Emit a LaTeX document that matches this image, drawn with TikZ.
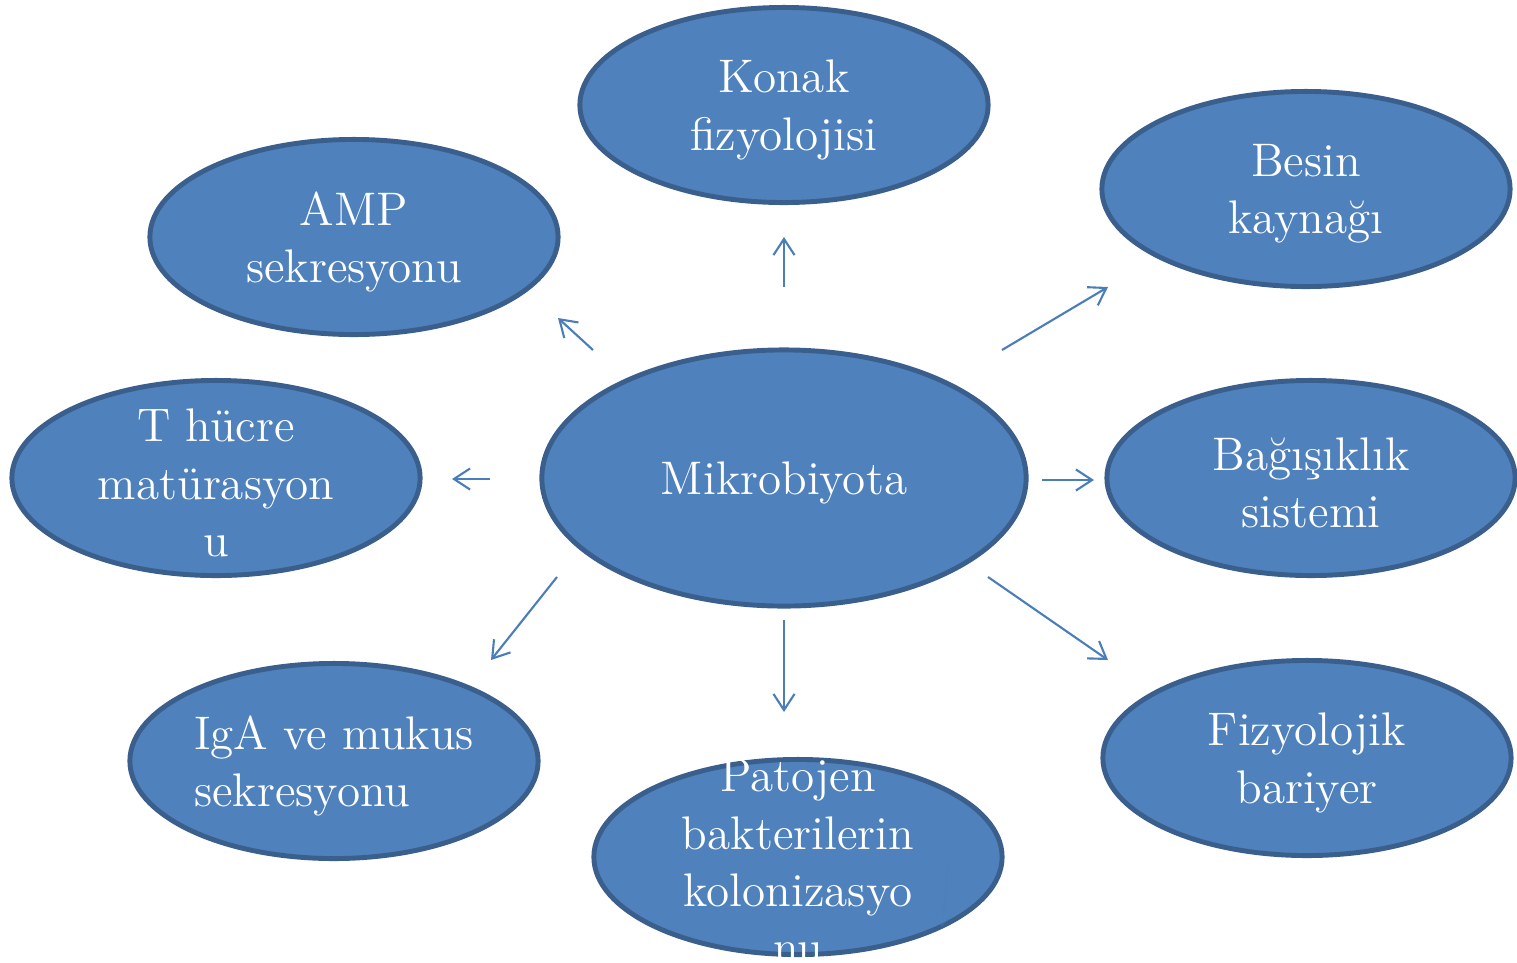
\documentclass[tikz,border=0pt]{standalone}
\usepackage{tikz}
\usetikzlibrary{arrows.meta, shapes.geometric}
\definecolor{blobfill}{HTML}{4F81BD}
\definecolor{blobline}{HTML}{3A5F8C}
\definecolor{arrowblue}{HTML}{4A7EBB}

\begin{document}
\begin{tikzpicture}[x=0.01cm, y=-0.01cm, >={Straight Barb[length=4.6pt, width=6pt]},
  blob/.style={ellipse, draw=blobline, fill=blobfill, line width=1.4pt,
    minimum width=4.08cm, minimum height=1.95cm, inner sep=0pt},
  blobtext/.style={text=white, align=center, inner sep=0pt,
    font=\fontsize{13.4}{16.3}\selectfont, yshift=-0.05cm},
  link/.style={->, draw=arrowblue, line width=0.6pt}]
\useasboundingbox (0,0) rectangle (1517,963);
\clip (0,0) rectangle (1517,963);
% the centre and the eight effects round it
\node[blob, minimum width=4.84cm, minimum height=2.56cm] (mikro) at (784,478) {};
\node[blob] (konak) at (784,105) {};
\node[blob] (besin) at (1306,189) {};
\node[blob] (amp) at (354,237) {};
\node[blob] (thucre) at (216,478) {};
\node[blob] (bagis) at (1311,478) {};
\node[blob] (iga) at (334,761) {};
\node[blob] (patojen) at (798,857) {};
\node[blob] (fizyo) at (1307,758) {};
% texts
\node[blobtext] (mikro-t) at (mikro) {Mikrobiyota};
\node[blobtext] (konak-t) at (konak) {Konak\\fizyolojisi};
\node[blobtext] (besin-t) at (besin) {Besin\\kaynağı};
\node[blobtext] (amp-t) at (amp) {AMP\\sekresyonu};
\node[blobtext] (thucre-t) at (thucre) {T hücre\\matürasyon\\u};
\node[blobtext] (bagis-t) at (bagis) {Bağışıklık\\sistemi};
\node[blobtext, align=left] (iga-t) at (iga) {IgA ve mukus\\sekresyonu};
\node[blobtext] (patojen-t) at (patojen) {Patojen\\bakterilerin\\kolonizasyo\\nu};
\node[blobtext] (fizyo-t) at (fizyo) {Fizyolojik\\bariyer};
% free-standing arrows between the ellipses
\coordinate (up0) at (784,287);   \coordinate (up1) at (784,237);
\coordinate (amp0) at (593,350);  \coordinate (amp1) at (558,318);
\coordinate (bes0) at (1002,350); \coordinate (bes1) at (1108,287);
\coordinate (th0) at (490,479);   \coordinate (th1) at (452,479);
\coordinate (bag0) at (1042,480); \coordinate (bag1) at (1094,480);
\coordinate (iga0) at (557,577);  \coordinate (iga1) at (491,660);
\coordinate (pat0) at (784,620);  \coordinate (pat1) at (784,712);
\coordinate (fiz0) at (988,577);  \coordinate (fiz1) at (1108,660);
\draw[link] (up0) -- (up1);
\draw[link] (amp0) -- (amp1);
\draw[link] (bes0) -- (bes1);
\draw[link] (th0) -- (th1);
\draw[link] (bag0) -- (bag1);
\draw[link] (iga0) -- (iga1);
\draw[link] (pat0) -- (pat1);
\draw[link] (fiz0) -- (fiz1);
% faint stray arrow inside the lower ellipse
\coordinate (gh0) at (949,858); \coordinate (gh1) at (942,927);
\draw[link, line width=0.3pt, opacity=0.3] (gh0) -- (gh1);
\end{tikzpicture}
\end{document}
